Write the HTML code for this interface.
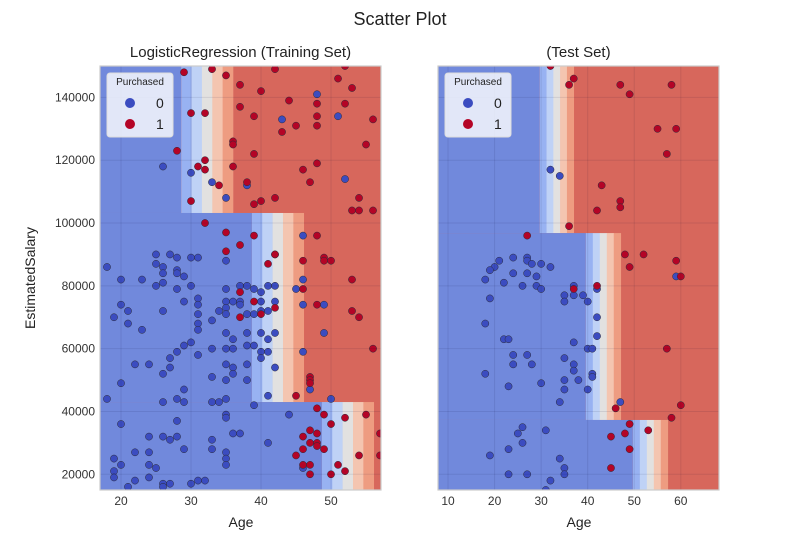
<!DOCTYPE html>
<html><head><meta charset="utf-8">
<style>
body{margin:0;background:#fff;}
svg{display:block;font-family:"Liberation Sans",sans-serif;}
</style></head>
<body>
<svg id="chart" width="800" height="550" viewBox="0 0 800 550">
<text x="400" y="25" text-anchor="middle" font-size="18" fill="#222">Scatter Plot</text>
<text x="240.5" y="57" text-anchor="middle" font-size="15" fill="#222">LogisticRegression (Training Set)</text>
<text x="578.5" y="57" text-anchor="middle" font-size="15" fill="#222">(Test Set)</text>
<text x="241" y="527" text-anchor="middle" font-size="14" fill="#222">Age</text>
<text x="579" y="527" text-anchor="middle" font-size="14" fill="#222">Age</text>
<text transform="translate(35,278) rotate(-90)" text-anchor="middle" font-size="14" fill="#222">EstimatedSalary</text>
</svg>
<script>
// ---- data ----
const trainAgeTicks=[20,30,40,50];
const testAgeTicks=[10,20,30,40,50,60];
const salaryTicks=[20000,40000,60000,80000,100000,120000,140000];
// decision regions: [salaryLow, salaryHigh, bandStartAge, bandEndAge]
const trainBands=[[103200,150000,28.6,36.0],[43000,103200,38.7,46.1],[15000,43000,48.7,56.1]];
const testBands=[[96800,150000,29.7,37.0],[37300,96800,39.6,47.1],[15000,37300,49.7,57.2]];
const stripeColors=["#98b2f2","#bfd2f6","#e2e1e0","#f4c5b0","#ee9c81"];
const trainRedAge=[29,33,35,37,40,42,51,53,52,44,48,52,37,39,48,48,45,43,56,30,32,36,36,28,39,55,32,31,32,36,48,46,38,34,47,30,39,40,42,54,53,54,56,32,35,37,39,48,35,42,41,42,46,49,49,50,53,46,37,39,48,53,54,42,40,37,56,47,47,47,45,48,49,50,52,55,46,47,48,48,47,48,49,45,46,46,47,47,50,51,52,54,57,57];
const trainRedSal=[148000,149000,147000,144000,142000,149000,146000,143000,150000,139000,138000,138000,137000,134000,134000,131000,131000,129000,133000,135000,135000,126000,125000,123000,122000,125000,120000,118000,117000,118000,119000,117000,113000,112000,113000,107000,106000,107000,108000,108000,104000,104000,104000,100000,97000,93000,96000,96000,91000,90000,87000,90000,88000,89000,88000,88000,82000,79000,78000,75000,74000,72000,70000,73000,71000,70000,60000,51000,50000,49000,45000,41000,39000,36000,38000,39000,32000,34000,33000,30000,30000,29000,28000,26000,28000,23000,23000,20000,20000,23000,21000,26000,26000,33000];
const trainBlueAge=[48,43,51,26,30,33,38,35,52,46,25,27,28,30,31,35,18,25,26,26,28,28,29,20,23,25,26,28,30,35,37,38,39,40,41,42,20,21,19,21,23,26,29,31,31,31,31,31,33,34,35,35,35,36,37,37,38,39,40,40,41,42,35,38,40,42,36,41,30,29,28,33,35,36,38,39,40,41,31,27,40,22,24,27,35,36,38,42,26,33,35,36,38,20,29,28,29,26,18,33,34,35,41,39,20,28,35,35,44,24,26,27,28,33,36,37,41,22,24,29,33,35,35,35,19,20,24,25,19,19,22,24,26,27,30,31,32,21,26,46,46,46,49,49,46,47,50,45];
const trainBlueSal=[141000,133000,134000,118000,116000,113000,112000,108000,114000,96000,90000,90000,89000,89000,89000,88000,86000,87000,86000,84000,85000,84000,83000,82000,82000,80000,81000,79000,80000,79000,80000,80000,79000,78000,80000,80000,74000,72000,70000,68000,66000,72000,75000,76000,74000,71000,68000,66000,69000,72000,75000,73000,71000,75000,75000,74000,71000,71000,75000,72000,72000,75000,65000,65000,65000,65000,63000,63000,62000,61000,59000,60000,60000,60000,61000,61000,59000,59000,58000,57000,57000,55000,55000,54000,55000,54000,55000,54000,52000,51000,50000,52000,50000,49000,47000,44000,43000,43000,44000,43000,43000,44000,45000,42000,36000,37000,39000,38000,39000,32000,32000,31000,32000,31000,33000,33000,30000,27000,27000,28000,28000,27000,25000,23000,25000,23000,23000,22000,21000,19000,18000,19000,17000,17000,17000,18000,18000,16000,16000,22000,82000,74000,74000,65000,59000,47000,44000,79000];
const testRedAge=[32,37,36,47,49,58,55,59,57,43,47,47,42,36,27,48,52,59,49,60,37,42,57,46,60,58,49,53,45,48,49,45];
const testRedSal=[150000,146000,144000,144000,141000,144000,130000,130000,122000,112000,107000,105000,104000,99000,96000,90000,90000,88000,86000,83000,79000,80000,60000,41000,42000,38000,36000,34000,32000,33000,28000,22000];
const testBlueAge=[32,34,59,21,20,19,24,27,27,28,30,32,24,27,29,18,22,26,29,30,37,35,37,39,35,40,42,19,42,18,22,23,37,42,40,41,24,27,24,28,35,37,37,18,41,41,35,38,30,23,35,40,34,47,26,25,31,26,23,19,34,35,23,27,35,32,31];
const testBlueSal=[117000,115000,83000,88000,86000,85000,89000,89000,88000,87000,87000,86000,84000,84000,83000,82000,81000,80000,80000,79000,80000,77000,77000,77000,75000,75000,79000,76000,70000,68000,63000,63000,62000,64000,60000,60000,58000,58000,55000,55000,57000,55000,53000,52000,52000,51000,50000,50000,49000,48000,47000,47000,43000,43000,35000,33000,34000,30000,28000,26000,25000,22000,20000,20000,20000,18000,15000];

const NS="http://www.w3.org/2000/svg";
const svg=document.getElementById('chart');
function mk(tag,attrs,parent){const e=document.createElementNS(NS,tag);for(const k in attrs)e.setAttribute(k,attrs[k]);(parent||svg).appendChild(e);return e;}
const Y0=66,Y1=490,SMIN=15000,SMAX=150000;
function yS(v){return Y0+(SMAX-v)/(SMAX-SMIN)*(Y1-Y0);}

function panel(name,x0,x1,amin,amax,ticks,bands,ra,rs,ba,bs,showY){
  const xS=a=>x0+(a-amin)/(amax-amin)*(x1-x0);
  const g=mk('g',{});
  
  
  const clipId=name+'-clip';
  const cp=mk('clipPath',{id:clipId},g);mk('rect',{x:x0,y:Y0,width:x1-x0,height:Y1-Y0},cp);
  const reg=mk('g',{'clip-path':'url(#'+clipId+')'},g);
  
  
  mk('rect',{x:x0,y:Y0,width:x1-x0,height:Y1-Y0,fill:'#d7675c'},reg);
  bands.forEach(b=>{
    const yt=yS(b[1]),yb=yS(b[0]);
    const r=mk('rect',{x:x0,y:yt,width:xS(b[2])-x0,height:yb-yt,fill:'#7189dc'},reg);
    
    
    const w=(b[3]-b[2])/stripeColors.length;
    stripeColors.forEach((c,i)=>{
      const s=mk('rect',{x:xS(b[2]+i*w),y:yt,width:xS(b[2]+(i+1)*w)-xS(b[2]+i*w)+0.3,height:yb-yt,fill:c},reg);
      
      
    });
  });
  ticks.forEach(t=>{const l=mk('line',{x1:xS(t),x2:xS(t),y1:Y0,y2:Y1,stroke:'rgba(0,0,40,0.09)','stroke-width':1},g);
    });
  salaryTicks.forEach(t=>{const l=mk('line',{x1:x0,x2:x1,y1:yS(t),y2:yS(t),stroke:'rgba(0,0,40,0.09)','stroke-width':1},g);
    });
  function pts(A,S,fill,cls){A.forEach((a,i)=>{const c=mk('circle',{cx:xS(a),cy:yS(S[i]),r:3.6,fill:fill,stroke:'#2a2a3a','stroke-width':0.5},reg);
    });}
  pts(ba,bs,'#3b4cc0','class0');
  pts(ra,rs,'#b40426','class1');
  const f=mk('rect',{x:x0,y:Y0,width:x1-x0,height:Y1-Y0,fill:'none',stroke:'#cccccc','stroke-width':1.2},g);
  
  ticks.forEach(t=>{const tx=mk('text',{x:xS(t),y:Y1+15,'text-anchor':'middle','font-size':12,fill:'#333'},g);tx.textContent=t;
    });
  if(showY)salaryTicks.forEach(t=>{const tx=mk('text',{x:x0-5,y:yS(t)+4,'text-anchor':'end','font-size':12,fill:'#333'},g);tx.textContent=t;
    });
  const lg=mk('g',{},g);
  
  
  mk('rect',{x:x0+7,y:73,width:66,height:64,rx:3,fill:'rgba(255,255,255,0.8)',stroke:'#dddddd'},lg);
  const lt=mk('text',{x:x0+40,y:85,'text-anchor':'middle','font-size':10,fill:'#222'},lg);lt.textContent='Purchased';
  [['#3b4cc0','0',103],['#b40426','1',124]].forEach(e=>{
    const le=mk('g',{},lg);
    
    
    mk('circle',{cx:x0+30,cy:e[2],r:5,fill:e[0]},le);
    const t=mk('text',{x:x0+56,y:e[2]+5,'font-size':14,fill:'#222'},le);t.textContent=e[1];
  });
}
panel('train',100,381,17,57.14,trainAgeTicks,trainBands,trainRedAge,trainRedSal,trainBlueAge,trainBlueSal,true);
panel('test',438,719,7.85,68.2,testAgeTicks,testBands,testRedAge,testRedSal,testBlueAge,testBlueSal,false);
</script>
</body></html>
